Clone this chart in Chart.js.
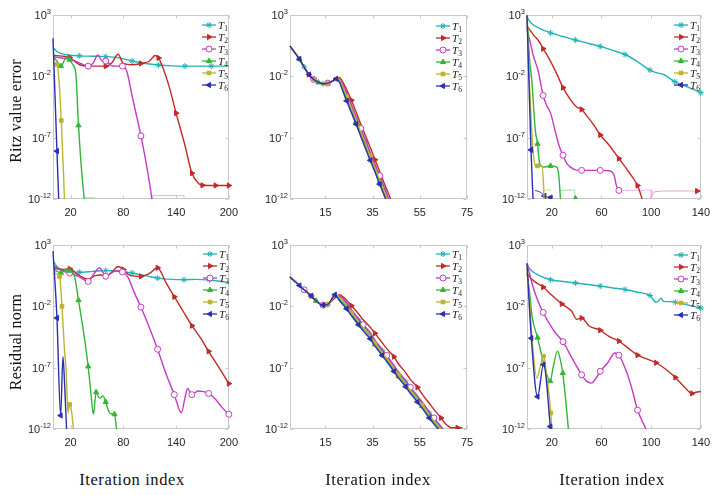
<!DOCTYPE html>
<html><head><meta charset="utf-8">
<script src="https://cdn.jsdelivr.net/npm/chart.js@4.4.1/dist/chart.umd.min.js"></script>
<style>
html,body{margin:0;padding:0;background:#fff;}
body{width:720px;height:495px;position:relative;overflow:hidden;font-family:"Liberation Serif",serif;color:#111;}
.wrap{position:absolute;}
.ytitle{position:absolute;font-size:16px;white-space:nowrap;transform:translate(-50%,-50%) rotate(-90deg);letter-spacing:0.2px;}
.xtitle{position:absolute;font-size:16.5px;white-space:nowrap;transform:translate(-50%,-50%);letter-spacing:0.6px;}
.ytick{position:absolute;font-family:"Liberation Sans",sans-serif;font-size:11px;line-height:14px;color:#262626;white-space:nowrap;text-align:right;}
.ytick sup{font-size:7.5px;line-height:0;vertical-align:5px;}
.legend{position:absolute;}
.legend .row{display:flex;align-items:center;height:12px;}
.legend canvas{width:14px;height:10px;display:block;}
.legend .lab{font-family:"Liberation Serif",serif;font-size:11px;margin-left:2px;color:#222;line-height:12px;}
.legend .lab i{font-style:italic;}
.legend .lab sub{font-size:7.5px;vertical-align:-2px;line-height:0;}
</style>
</head><body>
<script>
// ---------- tick labels ----------
const yTickValues = [1e-12, 1e-7, 1e-2, 1e3];
const yTickBase = '10';
const yTickExp = ['-12', '-7', '-2', '3'];
const xTicksA = [20, 80, 140, 200];
const xTicksB = [15, 35, 55, 75];
const xTicksC = [20, 60, 100, 140];
const seriesNames = ['T1', 'T2', 'T3', 'T4', 'T5', 'T6'];
const rowTitles = ['Ritz value error', 'Residual norm'];
const colTitle = 'Iteration index';

// ---------- data: [iteration, log10(value)] ----------
// Top-left
const TL_T1 = [[1,0.3],[4,0.05],[10,-0.15],[20,-0.28],[30,-0.33],[45,-0.36],[60,-0.39],[75,-0.5],[90,-0.75],[105,-0.95],[120,-1.08],[135,-1.15],[150,-1.17],[180,-1.17],[200,-1.17]];
const TL_T1_mk = [30,60,90,120,150,180];
const TL_T2 = [[1,-0.3],[10,-0.35],[19,-0.47],[25,-0.8],[32,-1.1],[45,-1.17],[60,-1.17],[67,-0.9],[74,-0.2],[80,-0.95],[90,-1.05],[100,-0.95],[110,-0.75],[116,-0.3],[120,-0.5],[125,-1.3],[132,-2.8],[140,-5.0],[150,-7.6],[158,-9.9],[166,-10.75],[170,-10.88],[185,-10.9],[200,-10.9]];
const TL_T2_mk = [19,60,100,120,140,158,170,185,200];
const TL_T3 = [[1,-0.4],[10,-0.5],[20,-0.6],[30,-0.9],[40,-1.17],[46,-0.9],[51,-0.25],[56,-0.75],[60,-0.75],[66,-1.1],[72,-1.17],[79,-1.17],[84,-1.6],[90,-3.6],[100,-6.86],[107,-9.5],[113,-12.3],[114,-13]];
const TL_T3_mk = [40,60,79,100];
const TL_T3_tail = [[113,-13],[113.5,-11.72],[149,-11.72],[149.5,-13]];
const TL_T4 = [[1,-0.45],[5,-0.8],[9,-1.17],[13,-0.7],[17,-0.4],[19,-0.65],[23,-1.1],[26,-1.8],[29,-6.0],[32,-9.2],[35,-11.6],[37,-13]];
const TL_T4_mk = [9,19,29];
const TL_T4_tail = [[36,-13],[36.3,-11.9],[47,-11.9],[47.3,-13]];
const TL_T5 = [[1,-1.0],[4.5,-1.03],[6.5,-2.0],[9.4,-5.6],[12,-10.0],[13.5,-13]];
const TL_T5_mk = [4.5,9.4];
const TL_T6 = [[0,1.1],[4.5,-8.1],[7,-13]];
const TL_T6_mk = [4.5];

// Top-middle
const TM_head = [[0,0.46],[4,-0.6],[6,-1.25],[8,-1.85],[10,-2.25],[12,-2.5],[14,-2.6],[16,-2.55],[18,-2.4],[19.5,-2.2]];
const TM_T1 = [[20.5,-2.18],[22,-2.6],[24,-3.5],[26,-4.45],[28,-5.4],[30,-6.4],[32,-7.35],[34,-8.35],[36,-9.3],[38,-10.3],[40,-11.25],[42,-12.2],[44,-13.2]];
const TM_T1_mk = [6,14,24,32,40];
const TM_T2 = [[20.5,-2.1],[21.5,-2.2],[23,-2.7],[26,-3.95],[28,-4.9],[30,-5.9],[32,-6.85],[34,-7.8],[36,-8.8],[38,-9.75],[40,-10.75],[42,-11.7],[44,-12.7]];
const TM_T2_mk = [8,26,36];
const TM_T3 = [[20.5,-2.15],[22,-2.5],[24,-3.35],[26,-4.3],[28,-5.25],[30,-6.25],[32,-7.2],[34,-8.2],[36,-9.15],[38,-10.1],[40,-11.1],[42,-12.05],[44,-13.0]];
const TM_T3_mk = [10,16,30,38];
const TM_T4 = [[20.5,-2.25],[22,-2.85],[24,-3.8],[26,-4.75],[28,-5.7],[30,-6.7],[32,-7.65],[34,-8.65],[36,-9.6],[38,-10.6],[40,-11.55],[42,-12.5],[44,-13.4]];
const TM_T4_mk = [4,12,28,38];
const TM_T5 = [[20.5,-2.2],[22,-2.7],[24,-3.65],[26,-4.6],[28,-5.55],[30,-6.55],[32,-7.5],[34,-8.5],[36,-9.45],[38,-10.45],[40,-11.4],[42,-12.35],[44,-13.3]];
const TM_T5_mk = [10,16,24,34,42];
const TM_T6 = [[21,-2.5],[22,-3.0],[24,-4.0],[26,-4.95],[28,-5.9],[30,-6.9],[32,-7.9],[34,-8.85],[36,-9.8],[38,-10.8],[40,-11.75],[42,-12.7]];
const TM_T6_mk = [4,8,19.5,24,28,34,38];

// Top-right
const TR_T1 = [[0,2.9],[2,2.5],[5,2.2],[10,1.9],[19,1.54],[29,1.25],[39,0.96],[49,0.7],[59,0.44],[69,0.12],[79,-0.22],[89,-0.8],[99,-1.49],[104,-1.7],[110,-1.85],[119,-2.43],[130,-2.9],[140,-3.34]];
const TR_T1_mk = [19,39,59,79,99,119,140];
const TR_T2 = [[0,2.1],[5,1.4],[10,0.8],[13,0.25],[18,-0.6],[24,-1.8],[29,-2.92],[35,-3.9],[40,-4.5],[44,-4.7],[48,-5.2],[54,-6.0],[59,-6.78],[66,-7.6],[74,-8.7],[82,-9.8],[89,-10.9],[93,-12.1],[95,-13]];
const TR_T2_mk = [13,29,44,59,74,89];
const TR_T2_tail = [[96,-13],[99,-11.9],[103,-11.4],[110,-11.35],[137,-11.35],[140,-11.35]];
const TR_T2_tail_mk = [137];
const TR_T3 = [[0,1.9],[3,0.6],[5,-0.3],[9,-1.55],[13,-3.56],[16,-4.4],[19,-5.0],[23,-6.6],[26,-7.7],[29,-8.43],[32,-9.1],[35,-9.4],[40,-9.65],[44,-9.67],[52,-9.67],[59,-9.67],[66,-9.7],[70,-10.0],[72,-10.9],[74,-11.3]];
const TR_T3_mk = [13,29,44,59,74];
const TR_T3_tail = [[74,-11.3],[100,-11.27],[100.5,-13]];
const TR_T4 = [[0,2.9],[2,-0.5],[4,-2.5],[6.7,-6.4],[8.5,-7.5],[10,-9.0],[13,-9.4],[19,-9.3],[24,-9.4],[25.5,-10],[26.7,-11.6],[27.5,-13]];
const TR_T4_mk = [8.5,19];
const TR_T4_tail = [[26.7,-11.3],[38,-11.27],[39,-11.95],[39.3,-13]];
const TR_T4_tail_mk = [39];
const TR_T5 = [[0,2.9],[2,-2.5],[4.8,-8.0],[6.7,-9.26],[8.5,-9.3],[12,-9.3],[13.3,-10.8],[14,-13]];
const TR_T5_mk = [8.5];
const TR_T5_tail = [[13.3,-11.27],[19,-11.27]];
const TR_T6 = [[0,3.0],[3.2,-8.0],[5.3,-13]];
const TR_T6_mk = [3.2];
const TR_T6_tail = [[6.5,-11.3],[10,-11.4],[12,-11.55],[14,-11.75],[16,-11.82],[19,-11.88]];
const TR_T6_tail_mk = [14,19];

// Bottom-left
const BL_T1 = [[1,1.6],[5,1.2],[10,1.0],[20,0.85],[30,0.78],[45,0.85],[60,0.92],[75,0.85],[90,0.72],[105,0.5],[119,0.3],[135,0.2],[149,0.17],[163,0.2],[178,0.15],[190,0.05],[200,-0.06]];
const BL_T1_mk = [30,60,90,119,149,178];
const BL_T2 = [[1,1.1],[10,1.0],[19,1.06],[28,0.6],[40,0.22],[48,0.5],[55,0.55],[60,0.45],[67,0.8],[74,1.25],[80,1.0],[88,0.5],[100,0.44],[110,0.7],[119,1.14],[128,0.0],[138,-1.22],[148,-2.4],[158,-3.58],[168,-4.6],[177,-5.67],[188,-6.9],[200,-8.3]];
const BL_T2_mk = [19,60,80,100,119,138,158,177,200];
const BL_T3 = [[1,1.3],[10,0.9],[19,0.72],[30,0.4],[40,0.03],[46,0.6],[53,1.14],[60,0.45],[66,0.7],[72,0.9],[79,0.8],[85,0.4],[92,-0.8],[100,-2.06],[110,-3.8],[119,-5.5],[128,-7.4],[138,-9.2],[146,-10.67],[150,-9.5],[153,-8.7],[158,-9.2],[165,-8.9],[177,-9.1],[185,-9.6],[193,-10.3],[200,-10.8]];
const BL_T3_mk = [19,40,60,79,100,119,138,158,177,200];
const BL_T4 = [[1,1.0],[9,0.72],[15,1.0],[19,0.9],[24,0.6],[29,-1.5],[35,-4.2],[40,-6.9],[43,-9],[46,-10.8],[49,-9.0],[53,-9.5],[57,-9.3],[60,-9.8],[63,-10.5],[65,-10.75],[70,-10.8],[72,-11.8],[74,-13]];
const BL_T4_mk = [9,19,29,40,49,60,70];
const BL_T5 = [[1,0.72],[7.5,0.44],[10.2,-2.0],[13,-5.5],[15,-7.3],[17,-10.67],[19,-10],[21,-10.5],[23,-11.8],[24.5,-13]];
const BL_T5_mk = [7.5,10.2,19];
const BL_T6 = [[0,2.5],[4.5,-2.95],[8.7,-10.9],[11.3,-6.1],[13,-8.0],[16,-13]];
const BL_T6_mk = [4.5,8.7];

// Bottom-middle
const BM_head = [[0,0.4],[4,-0.3],[6,-0.65],[9,-1.15],[11,-1.55],[14,-1.9],[16,-1.85]];
const BM_T1 = [[18,-1.4],[20,-1.2],[21.5,-1.25],[24,-1.8],[26,-2.35],[29,-3.1],[31,-3.6],[34,-4.25],[36,-4.85],[39,-5.6],[41,-6.1],[44,-6.9],[46,-7.45],[49,-8.15],[51,-8.7],[54,-9.4],[56,-9.9],[59,-10.7],[61,-11.2],[64,-11.9],[66,-12.4],[68,-12.9]];
const BM_T1_mk = [6,16,29,39,49,59];
const BM_T2 = [[18,-1.5],[19.5,-1.25],[21,-1.05],[23,-1.3],[26,-1.95],[29,-2.6],[31,-3.1],[34,-3.7],[36,-4.2],[39,-4.95],[41,-5.45],[44,-6.1],[46,-6.7],[49,-7.4],[51,-7.95],[54,-8.6],[56,-9.15],[59,-9.9],[61,-10.4],[64,-11.1],[66,-11.6],[68.5,-11.9],[71,-11.9],[73,-11.9]];
const BM_T2_mk = [9,26,36,44,54,64,71];
const BM_T3 = [[18,-1.4],[20,-1.15],[21.5,-1.2],[24,-1.7],[26,-2.25],[29,-3.0],[31,-3.5],[34,-4.15],[36,-4.75],[39,-5.5],[41,-6.0],[44,-6.8],[46,-7.35],[49,-8.05],[51,-8.6],[54,-9.3],[56,-9.8],[59,-10.6],[61,-11.1],[64,-11.8],[66,-12.3],[68,-12.8]];
const BM_T3_mk = [6,14,31,41,51,61];
const BM_T4 = [[18,-1.35],[19.5,-1.1],[21,-1.4],[24,-2.05],[26,-2.6],[29,-3.35],[31,-3.85],[34,-4.5],[36,-5.1],[39,-5.85],[41,-6.35],[44,-7.15],[46,-7.7],[49,-8.4],[51,-8.95],[54,-9.65],[56,-10.15],[59,-10.95],[61,-11.45],[64,-12.15],[66,-12.65]];
const BM_T4_mk = [11,24,36,46,56];
const BM_T5 = [[18,-1.4],[20,-1.1],[21,-1.3],[24,-1.95],[26,-2.5],[29,-3.25],[31,-3.75],[34,-4.4],[36,-5.0],[39,-5.75],[41,-6.25],[44,-7.05],[46,-7.6],[49,-8.3],[51,-8.85],[54,-9.55],[56,-10.05],[59,-10.85],[61,-11.35],[64,-12.05],[66,-12.55],[68,-13.1]];
const BM_T5_mk = [9,16,26,36,46,56];
const BM_T6 = [[18,-1.3],[19,-1.05],[21,-1.55],[24,-2.2],[26,-2.75],[29,-3.5],[31,-4.0],[34,-4.65],[36,-5.25],[39,-6.0],[41,-6.5],[44,-7.3],[46,-7.85],[49,-8.55],[51,-9.1],[54,-9.8],[56,-10.3],[59,-11.1],[61,-11.6],[64,-12.3],[66,-12.8]];
const BM_T6_mk = [4,9,14,19,24,29,34,39,44,49,54,59];

// Bottom-right
const BR_T1 = [[0,1.49],[2,1.1],[5,0.8],[10,0.5],[19,0.17],[29,0.03],[39,-0.1],[49,-0.22],[59,-0.35],[69,-0.5],[79,-0.63],[89,-0.85],[99,-1.12],[104,-1.67],[106,-1.55],[108,-1.34],[110,-1.6],[115,-1.62],[119.5,-1.67],[130,-1.9],[140,-2.14]];
const BR_T1_mk = [19,39,59,79,99,119.5,140];
const BR_T2 = [[0,0.66],[5,0.1],[13,-0.43],[20,-1.1],[28,-1.8],[36,-2.4],[40,-3.05],[44,-2.95],[50,-3.6],[59,-3.95],[66,-4.45],[74,-4.83],[82,-5.45],[89,-5.98],[97,-6.3],[104,-6.6],[112,-7.15],[119.5,-7.8],[127,-8.6],[133,-9.1],[136,-9.0],[140,-8.95]];
const BR_T2_mk = [13,28,44,59,74,89,104,119.5,133];
const BR_T3 = [[0,1.5],[3,0.3],[5.3,-0.57],[9,-1.6],[13,-2.5],[20,-3.73],[24,-4.3],[29,-4.88],[34.7,-5.93],[40,-6.9],[44,-7.58],[48,-8.1],[52,-8.26],[56,-7.8],[59,-7.3],[65,-6.6],[70.7,-5.8],[74,-5.98],[80,-7.3],[85,-8.9],[89,-10.46],[93,-11.4],[96,-12.2],[97,-13]];
const BR_T3_mk = [13,29,44,59,74,89];
const BR_T4 = [[0,0.7],[2,-0.8],[4,-2.77],[8.5,-4.55],[13.3,-6.6],[18.7,-8.1],[21,-7.0],[24.5,-5.65],[26,-6.0],[28.8,-7.44],[31,-9.5],[33.3,-12],[34,-13]];
const BR_T4_mk = [8.5,18.7,28.8];
const BR_T5 = [[0,1.2],[2,-1.5],[4,-4.55],[8,-7.85],[10.5,-7.0],[13.3,-6.07],[16,-7.8],[19.2,-10.7],[20,-12.1],[20.5,-13]];
const BR_T5_mk = [13.3,19.2];
const BR_T6 = [[0,1.5],[3.5,-4.6],[8.5,-9.36],[13.3,-6.75],[18.7,-11.8],[19.5,-13]];
const BR_T6_mk = [3.5,8.5,13.3,18.7];

// ---------- styles ----------
const COLORS = ['#22b3b6', '#c22a26', '#c43ac4', '#35b535', '#bdb42c', '#2a30b0'];
const TAILCOL = {1:'#e8a2a2', 2:'#eba8eb', 3:'#9cd89c', 4:'#dad57c', 5:'#2a30b0'};
const MARK = [
  {pointStyle:'star', rotation:0, fill:true},
  {pointStyle:'triangle', rotation:90, fill:true},
  {pointStyle:'circle', rotation:0, fill:false},
  {pointStyle:'triangle', rotation:0, fill:true},
  {pointStyle:'rect', rotation:0, fill:true},
  {pointStyle:'triangle', rotation:-90, fill:true}
];
const MR = 3;

function mkDataset(pairs, marks, si, tailColor) {
  const col = tailColor || COLORS[si];
  const mcol = COLORS[si];
  const m = MARK[si];
  return {
    data: pairs.map(p => ({x: p[0], y: Math.pow(10, p[1])})),
    borderColor: col,
    borderWidth: tailColor ? 0.9 : 1.4,
    cubicInterpolationMode: tailColor ? 'default' : 'monotone',
    tension: 0,
    pointStyle: m.pointStyle,
    rotation: m.rotation,
    pointRadius: ctx => (ctx.raw && marks.includes(ctx.raw.x)) ? (m.pointStyle === 'rect' ? 2.6 : MR) : 0,
    pointHoverRadius: 0,
    pointBorderColor: mcol,
    pointBackgroundColor: m.fill ? mcol : '#ffffff',
    pointBorderWidth: 1,
    fill: false,
    clip: {left: 6, right: 6, top: 6, bottom: 0},
    order: tailColor ? 10 : 6 - si
  };
}

const framePlugin = {
  id: 'frame',
  beforeDatasetsDraw(chart) {
    const {ctx, chartArea: a, scales} = chart;
    ctx.save();
    ctx.strokeStyle = '#c8c8c8';
    ctx.lineWidth = 1;
    const L = Math.round(a.left) + 0.5, R = Math.round(a.right) - 0.5;
    const T = Math.round(a.top) + 0.5, B = Math.round(a.bottom) - 0.5;
    ctx.strokeRect(L, T, R - L, B - T);
    ctx.beginPath();
    scales.x.ticks.forEach(t => {
      const px = Math.round(scales.x.getPixelForValue(t.value)) + 0.5;
      ctx.moveTo(px, B); ctx.lineTo(px, B - 3);
      ctx.moveTo(px, T); ctx.lineTo(px, T + 3);
    });
    scales.y.ticks.forEach(t => {
      const py = Math.round(scales.y.getPixelForValue(t.value)) + 0.5;
      ctx.moveTo(L, py); ctx.lineTo(L + 3, py);
      ctx.moveTo(R, py); ctx.lineTo(R - 3, py);
    });
    ctx.stroke();
    ctx.restore();
  }
};

const PADL = 45, PADT = 10, PADR = 15, PADB = 24;

function makePanel(rect, xmax, xticks, series, tails, legendPos) {
  const [l, t, r, b] = rect;
  const wrap = document.createElement('div');
  wrap.className = 'wrap';
  wrap.style.left = (l - PADL) + 'px';
  wrap.style.top = (t - PADT) + 'px';
  wrap.style.width = (r - l + PADL + PADR) + 'px';
  wrap.style.height = (b - t + PADT + PADB) + 'px';
  const cv = document.createElement('canvas');
  wrap.appendChild(cv);
  document.body.appendChild(wrap);
  const datasets = [];
  tails.forEach(tl => datasets.push(mkDataset(tl[1], tl[2] || [], tl[0], TAILCOL[tl[0]])));
  series.forEach((s, i) => datasets.push(mkDataset(s[0], s[1], i)));
  const chart = new Chart(cv, {
    type: 'line',
    data: {datasets},
    options: {
      responsive: true, maintainAspectRatio: false, animation: false,
      events: [],
      layout: {padding: {left: 0, top: PADT, right: PADR, bottom: 0}, autoPadding: false},
      plugins: {legend: {display: false}, tooltip: {enabled: false}},
      scales: {
        x: {
          type: 'linear', min: 0, max: xmax,
          grid: {display: false, drawTicks: false}, border: {display: false},
          afterBuildTicks: s => { s.ticks = xticks.map(v => ({value: v})); },
          afterFit: s => { s.height = PADB; },
          ticks: {autoSkip: false, maxRotation: 0, padding: 7, color: '#262626',
                  font: {family: 'Liberation Sans', size: 11}}
        },
        y: {
          type: 'logarithmic', min: 1e-12, max: 1e3,
          grid: {display: false, drawTicks: false}, border: {display: false},
          afterBuildTicks: s => { s.ticks = yTickValues.map(v => ({value: v})); },
          afterFit: s => { s.width = PADL; },
          ticks: {display: false}
        }
      }
    },
    plugins: [framePlugin]
  });
  // y tick labels (HTML, placed with the chart's own y scale)
  const ys = chart.scales.y;
  const wrapTop = t - PADT, wrapLeft = l - PADL;
  yTickValues.forEach((v, i) => {
    const py = wrapTop + ys.getPixelForValue(v);
    const d = document.createElement('div');
    d.className = 'ytick';
    d.innerHTML = yTickBase + '<sup>' + yTickExp[i] + '</sup>';
    d.style.right = (720 - (wrapLeft + chart.chartArea.left - 2)) + 'px';
    d.style.top = (py - 7) + 'px';
    document.body.appendChild(d);
  });
  // legend
  const lg = document.createElement('div');
  lg.className = 'legend';
  lg.style.left = legendPos[0] + 'px';
  lg.style.top = legendPos[1] + 'px';
  const dpr = window.devicePixelRatio || 1;
  seriesNames.forEach((name, i) => {
    const row = document.createElement('div');
    row.className = 'row';
    const c = document.createElement('canvas');
    c.width = 14 * dpr; c.height = 10 * dpr;
    const g = c.getContext('2d');
    g.scale(dpr, dpr);
    g.strokeStyle = COLORS[i]; g.lineWidth = 1.3;
    g.beginPath(); g.moveTo(0, 5); g.lineTo(14, 5); g.stroke();
    g.fillStyle = MARK[i].fill ? COLORS[i] : '#ffffff';
    g.lineWidth = 1;
    Chart.helpers.drawPoint(g, {pointStyle: MARK[i].pointStyle, rotation: MARK[i].rotation,
      radius: MARK[i].pointStyle === 'rect' ? 2.6 : MR, borderWidth: 1}, 7, 5);
    row.appendChild(c);
    const lab = document.createElement('span');
    lab.className = 'lab';
    lab.innerHTML = '<i>' + name.charAt(0) + '</i><sub>' + name.slice(1) + '</sub>';
    row.appendChild(lab);
    lg.appendChild(row);
  });
  document.body.appendChild(lg);
}

const cat = (a, b) => a.concat(b);

makePanel([53, 15, 230, 199], 200, xTicksA,
  [[TL_T1, TL_T1_mk], [TL_T2, TL_T2_mk], [TL_T3, TL_T3_mk], [TL_T4, TL_T4_mk], [TL_T5, TL_T5_mk], [TL_T6, TL_T6_mk]],
  [[2, TL_T3_tail], [3, TL_T4_tail]], [202, 19]);
makePanel([290, 15, 467, 199], 75, xTicksB,
  [[cat(TM_head, TM_T1), TM_T1_mk], [cat(TM_head, TM_T2), TM_T2_mk], [cat(TM_head, TM_T3), TM_T3_mk],
   [cat(TM_head, TM_T4), TM_T4_mk], [cat(TM_head, TM_T5), TM_T5_mk], [cat(TM_head, TM_T6), TM_T6_mk]],
  [], [436, 20]);
makePanel([527, 15, 702, 199], 140, xTicksC,
  [[TR_T1, TR_T1_mk], [TR_T2, TR_T2_mk], [TR_T3, TR_T3_mk], [TR_T4, TR_T4_mk], [TR_T5, TR_T5_mk], [TR_T6, TR_T6_mk]],
  [[1, TR_T2_tail, TR_T2_tail_mk], [2, TR_T3_tail], [3, TR_T4_tail, TR_T4_tail_mk], [4, TR_T5_tail], [5, TR_T6_tail, TR_T6_tail_mk]], [674, 19]);
makePanel([53, 245, 230, 429], 200, xTicksA,
  [[BL_T1, BL_T1_mk], [BL_T2, BL_T2_mk], [BL_T3, BL_T3_mk], [BL_T4, BL_T4_mk], [BL_T5, BL_T5_mk], [BL_T6, BL_T6_mk]],
  [], [203, 248]);
makePanel([290, 245, 467, 429], 75, xTicksB,
  [[cat(BM_head, BM_T1), BM_T1_mk], [cat(BM_head, BM_T2), BM_T2_mk], [cat(BM_head, BM_T3), BM_T3_mk],
   [cat(BM_head, BM_T4), BM_T4_mk], [cat(BM_head, BM_T5), BM_T5_mk], [cat(BM_head, BM_T6), BM_T6_mk]],
  [], [436, 248]);
makePanel([527, 245, 702, 429], 140, xTicksC,
  [[BR_T1, BR_T1_mk], [BR_T2, BR_T2_mk], [BR_T3, BR_T3_mk], [BR_T4, BR_T4_mk], [BR_T5, BR_T5_mk], [BR_T6, BR_T6_mk]],
  [], [674, 249]);

// titles
function addText(cls, txt, x, y) {
  const d = document.createElement('div');
  d.className = cls; d.textContent = txt;
  d.style.left = x + 'px'; d.style.top = y + 'px';
  document.body.appendChild(d);
}
addText('ytitle', rowTitles[0], 16, 111);
addText('ytitle', rowTitles[1], 16, 342);
addText('xtitle', colTitle, 132, 480);
addText('xtitle', colTitle, 378, 480);
addText('xtitle', colTitle, 612, 480);
</script>
</body></html>
